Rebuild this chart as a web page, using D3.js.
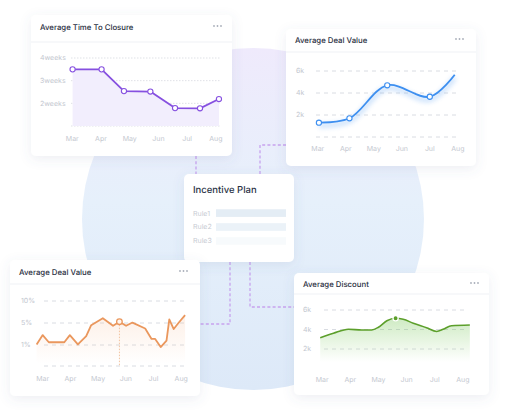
<!DOCTYPE html>
<html><head><meta charset="utf-8">
<script src="https://cdn.jsdelivr.net/npm/d3@7"></script>
<style>
html,body{margin:0;padding:0;background:#fff;}
svg{display:block;font-family:Inter,"Noto Sans",sans-serif;text-rendering:geometricPrecision;}
</style></head>
<body>
<svg id="c" width="512" height="412"></svg>
<script>
// ---------- data ----------
const months = ["Mar","Apr","May","Jun","Jul","Aug"];

// Chart 1: Average Time To Closure (weeks)
const c1X = [0.01,1.02,1.8,2.72,3.58,4.45,5.11];
const c1Weeks = [3.5,3.5,2.54,2.52,1.79,1.78,2.19];
const c1Ticks = [2,3,4];
const c1TickLabels = ["2weeks","3weeks","4weeks"];

// Chart 2: Average Deal Value (k)
const c2X = [0.04,1.13,2.48,4.0,4.89];
const c2Val = [1.3,1.7,4.7,3.66,5.66];
const c2Ticks = [2,4,6];
const c2TickLabels = ["2k","4k","6k"];

// Chart 3: Incentive Plan rules
const rules = ["Rule1","Rule2","Rule3"];
const ruleFill = [1,0.75,0.3];

// Chart 4: Average Deal Value (%)
const c4X = [-0.22,0,0.22,0.78,0.98,1.27,1.57,1.75,2.17,2.54,2.77,3.01,3.24,3.7,3.93,4.06,4.26,4.47,4.57,4.73,4.9,5.14];
const c4Val = [1.1,2.8,1.5,1.5,2.8,1.1,2.6,4.6,6.1,4.5,5.3,4.5,5.1,4.0,2.1,2.1,0.9,1.8,5.8,3.9,5.0,6.8];
const c4Ticks = [1,5,10];
const c4TickLabels = ["1%","5%","10%"];
const c4Marker = 10;

// Chart 5: Average Discount (k)
const c5X = [-0.07,0.4,0.93,1.41,1.76,2.0,2.3,2.61,2.88,3.24,3.71,4.07,4.3,4.6,5.25];
const c5Val = [3.16,3.61,4.02,3.95,3.95,4.23,4.9,5.15,5.05,4.64,4.18,3.8,4.02,4.39,4.46];
const c5Ticks = [2,4,6];
const c5TickLabels = ["2k","4k","6k"];
const c5Marker = 7;

// ---------- drawing ----------
const svg = d3.select("#c");
const defs = svg.append("defs");

const sh = defs.append("filter").attr("id","sh").attr("x","-20%").attr("y","-20%").attr("width","140%").attr("height","150%");
sh.append("feDropShadow").attr("dx",0).attr("dy",3).attr("stdDeviation",6)
  .attr("flood-color","#5a6890").attr("flood-opacity",0.11);

const glow = defs.append("filter").attr("id","glow").attr("x","-20%").attr("y","-50%").attr("width","140%").attr("height","200%");
glow.append("feGaussianBlur").attr("stdDeviation",2.5);

function vgrad(id, stops){
  const g = defs.append("linearGradient").attr("id",id).attr("x1",0).attr("x2",0).attr("y1",0).attr("y2",1);
  stops.forEach(s=>g.append("stop").attr("offset",s[0]).attr("stop-color",s[1]).attr("stop-opacity",s[2]));
}
vgrad("circ",[[0,"#efeafc",1],[0.45,"#e6f0fb",1],[1,"#dde9f8",1]]);
vgrad("org",[[0,"#f6b58a",0.2],[1,"#f6b58a",0.0]]);
vgrad("grn",[[0,"#6cc24a",0.33],[1,"#6cc24a",0.0]]);

// background circle
svg.append("circle").attr("cx",253).attr("cy",219).attr("r",171).attr("fill","url(#circ)");

// connectors
const conn = svg.append("g").attr("fill","none").attr("stroke","#c7a3ee").attr("stroke-width",1.3).attr("stroke-dasharray","3,2.2");
conn.append("path").attr("d","M196,156V174");
conn.append("path").attr("d","M260,174V145H286");
conn.append("path").attr("d","M230,262V324H200");
conn.append("path").attr("d","M250,262V307H294");

const titleColor = "#2a3042", axisColor = "#c3c7cf";

function card(x,y,w,h,title,divY,dotsX,titleY){
  const g = svg.append("g");
  g.append("rect").attr("x",x).attr("y",y).attr("width",w).attr("height",h).attr("rx",5)
    .attr("fill","#fff").attr("filter","url(#sh)");
  if(divY){
    g.append("line").attr("x1",x).attr("x2",x+w).attr("y1",divY).attr("y2",divY)
      .attr("stroke","#eff1f5").attr("stroke-width",1);
  }
  if(title){
    g.append("text").attr("x",x+9).attr("y",titleY).attr("dy","0.35em")
      .attr("font-size",7.8).attr("font-weight",500).attr("fill",titleColor).text(title);
  }
  if(dotsX){
    [0,3.5,7].forEach(d=>g.append("circle").attr("cx",dotsX+d).attr("cy",titleY-1).attr("r",0.9).attr("fill","#a9afba"));
  }
  return g;
}

function xAxisLabels(g, x, yPos){
  g.selectAll(null).data(months).join("text")
    .attr("x",(d,i)=>x(i)).attr("y",yPos).attr("dy","0.35em").attr("text-anchor","middle")
    .attr("font-size",7).attr("fill",axisColor).text(d=>d);
}
function yLabels(g, y, ticks, labels, lx){
  g.selectAll(null).data(ticks).join("text")
    .attr("x",lx).attr("y",d=>y(d)).attr("dy","0.35em")
    .attr("font-size",7).attr("fill",axisColor).text((d,i)=>labels[i]);
}
function grid(g, y, vals, x0, x1, dash, color){
  g.selectAll(null).data(vals).join("line")
    .attr("x1",x0).attr("x2",x1).attr("y1",d=>y(d)).attr("y2",d=>y(d))
    .attr("stroke",color).attr("stroke-width",1).attr("stroke-dasharray",dash);
}

// ---- Card 1 ----
{
  const g = card(31,15,201,141,"Average Time To Closure",42,214,27);
  const x = d3.scaleLinear().domain([0,5]).range([72.3,215.8]);
  const y = d3.scaleLinear().domain([1,4]).range([126,58]);
  grid(g,y,[1,2,3,4],71,221,"1.5,1.5","#dfe1e6");
  yLabels(g,y,c1Ticks,c1TickLabels,40);
  xAxisLabels(g,x,139);
  const pts = c1X.map((v,i)=>[v,c1Weeks[i]]);
  g.append("path").datum(pts).attr("fill","#f2eefd")
    .attr("d",d3.area().x(d=>x(d[0])).y0(y(1)).y1(d=>y(d[1])));
  g.append("path").datum(pts).attr("fill","none").attr("stroke","#8650e0").attr("stroke-width",1.8)
    .attr("stroke-linejoin","round").attr("d",d3.line().x(d=>x(d[0])).y(d=>y(d[1])));
  g.selectAll(null).data(pts).join("circle").attr("cx",d=>x(d[0])).attr("cy",d=>y(d[1])).attr("r",2.6)
    .attr("fill","#fff").attr("stroke","#8650e0").attr("stroke-width",1.1);
}

// ---- Card 2 ----
{
  const g = card(286,29,190,137,"Average Deal Value",52,456,40);
  const x = d3.scaleLinear().domain([0,5]).range([317.8,457.8]);
  const y = d3.scaleLinear().domain([0,6]).range([137,71]);
  grid(g,y,[0,2,4,6],316,458,"4,4","#d9dce2");
  yLabels(g,y,c2Ticks,c2TickLabels,296);
  xAxisLabels(g,x,149);
  const pts = c2X.map((v,i)=>[v,c2Val[i]]);
  const ln = d3.line().x(d=>x(d[0])).y(d=>y(d[1])).curve(d3.curveCatmullRom.alpha(0.5));
  g.append("path").datum(pts).attr("fill","none").attr("stroke","#3d8ff0").attr("stroke-width",4)
    .attr("opacity",0.3).attr("transform","translate(0,3)").attr("filter","url(#glow)").attr("d",ln);
  g.append("path").datum(pts).attr("fill","none").attr("stroke","#3d8ff0").attr("stroke-width",1.8).attr("d",ln);
  g.selectAll(null).data(pts.slice(0,4)).join("circle").attr("cx",d=>x(d[0])).attr("cy",d=>y(d[1])).attr("r",2.6)
    .attr("fill","#fff").attr("stroke","#3d8ff0").attr("stroke-width",1.1);
}

// ---- Card 3 ----
{
  const g = card(184,174,110,88,null,null,null,0);
  g.append("text").attr("x",193).attr("y",190).attr("dy","0.35em").attr("font-size",9.5)
    .attr("font-weight",500).attr("fill","#2a3346").text("Incentive Plan");
  const yb = d3.scaleBand().domain(rules).range([203,251]).padding(0.45);
  g.selectAll(null).data(rules).join("rect")
    .attr("x",216).attr("width",70).attr("y",d=>yb(d)).attr("height",yb.bandwidth())
    .attr("fill","#e4edf5").attr("fill-opacity",(d,i)=>ruleFill[i]);
  g.selectAll(null).data(rules).join("text")
    .attr("x",193).attr("y",d=>yb(d)+yb.bandwidth()/2).attr("dy","0.35em")
    .attr("font-size",7).attr("fill","#c7cbd3").text(d=>d);
}

// ---- Card 4 ----
{
  const g = card(10,260,190,136,"Average Deal Value",284,180,272);
  const x = d3.scaleLinear().domain([0,5]).range([42.7,181.2]);
  const y = d3.scaleLinear().domain([0,1,5,10]).range([366,345,323,301]);
  grid(g,y,[0,1,5,10],44,184,"4,4","#d9dce2");
  yLabels(g,y,c4Ticks,c4TickLabels,21);
  xAxisLabels(g,x,379);
  const pts = c4X.map((v,i)=>[v,c4Val[i]]);
  g.append("path").datum(pts).attr("fill","url(#org)")
    .attr("d",d3.area().x(d=>x(d[0])).y0(364).y1(d=>y(d[1])));
  const m = pts[c4Marker];
  g.append("line").attr("x1",x(m[0])).attr("x2",x(m[0])).attr("y1",y(m[1])).attr("y2",366)
    .attr("stroke","#f2c3a0").attr("stroke-width",1).attr("stroke-dasharray","1.5,1.5");
  g.append("path").datum(pts).attr("fill","none").attr("stroke","#ea975d").attr("stroke-width",1.8)
    .attr("stroke-linejoin","round").attr("d",d3.line().x(d=>x(d[0])).y(d=>y(d[1])));
  g.append("circle").attr("cx",x(m[0])).attr("cy",y(m[1])).attr("r",2.8)
    .attr("fill","#fff5ee").attr("stroke","#ea975d").attr("stroke-width",1.3);
}

// ---- Card 5 ----
{
  const g = card(294,273,195,122,"Average Discount",294,471,284);
  const x = d3.scaleLinear().domain([0,5]).range([322.2,462.8]);
  const y = d3.scaleLinear().domain([2,6]).range([349,310]);
  grid(g,y,[2,4,6],324,467,"4,4","#d9dce2");
  yLabels(g,y,c5Ticks,c5TickLabels,303);
  xAxisLabels(g,x,380);
  const pts = c5X.map((v,i)=>[v,c5Val[i]]);
  g.append("path").datum(pts).attr("fill","url(#grn)")
    .attr("d",d3.area().x(d=>x(d[0])).y0(362).y1(d=>y(d[1])).curve(d3.curveMonotoneX));
  g.append("path").datum(pts).attr("fill","none").attr("stroke","#5c9f2b").attr("stroke-width",1.6)
    .attr("d",d3.line().x(d=>x(d[0])).y(d=>y(d[1])).curve(d3.curveMonotoneX));
  const m = pts[c5Marker];
  g.append("circle").attr("cx",x(m[0])).attr("cy",y(m[1])).attr("r",2.6)
    .attr("fill","#5c9f2b").attr("stroke","#fff").attr("stroke-width",1.3);
}
</script>
</body></html>
